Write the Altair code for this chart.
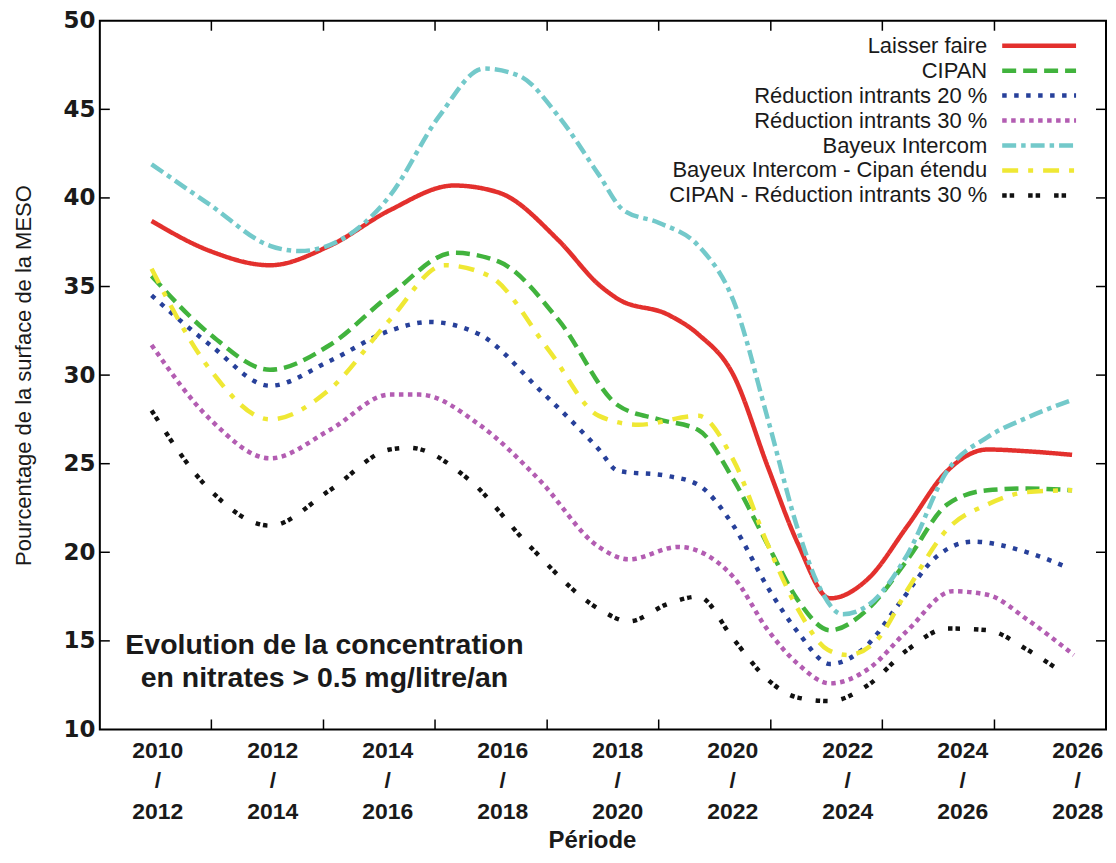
import altair as alt
import pandas as pd

# ---------------- data ----------------
SERIES = ["Laisser faire", "CIPAN", "Réduction intrants 20 %", "Réduction intrants 30 %",
          "Bayeux Intercom", "Bayeux Intercom - Cipan étendu", "CIPAN - Réduction intrants 30 %"]

red_x = [2010.9, 2011.92, 2012.96, 2014.0, 2015.04, 2016.16, 2016.94, 2017.98, 2018.68, 2019.01,
         2019.89, 2020.41, 2021.02, 2021.62, 2022.14, 2022.7, 2023.36, 2024.05, 2024.74, 2025.44, 2026.13, 2026.91]
red_y = [38.7, 37.0, 36.2, 37.3, 39.3, 40.7, 40.3, 37.6, 35.1, 34.3,
         33.4, 32.3, 30.0, 24.8, 20.5, 17.4, 18.5, 21.5, 24.6, 25.8, 25.7, 25.5]

green_x = [2010.9, 2011.92, 2012.96, 2014.0, 2015.04, 2016.16, 2016.94, 2017.98, 2019.01, 2019.72,
           2020.41, 2021.02, 2021.62, 2022.14, 2022.7, 2023.36, 2024.05, 2024.74, 2025.44, 2026.13, 2026.91]
green_y = [35.6, 32.3, 30.3, 31.7, 34.5, 36.9, 36.4, 33.1, 28.3, 27.5,
           26.9, 24.1, 20.4, 17.3, 15.6, 16.8, 19.6, 22.7, 23.5, 23.6, 23.5]

blue_x = [2010.9, 2011.92, 2012.96, 2014.0, 2015.04, 2015.73, 2016.6, 2017.64, 2018.68, 2019.01,
          2019.89, 2020.41, 2021.02, 2021.62, 2022.14, 2022.7, 2023.36, 2023.88, 2024.57, 2025.18, 2026.13, 2026.86]
blue_y = [34.5, 31.7, 29.4, 30.8, 32.5, 33.0, 32.3, 29.2, 25.8, 24.6,
          24.3, 23.8, 21.5, 18.0, 15.5, 13.7, 14.8, 17.0, 19.8, 20.6, 20.0, 19.1]

magenta_x = [2010.9, 2011.92, 2012.96, 2014.0, 2015.04, 2015.56, 2016.6, 2017.64, 2018.68, 2019.2,
             2020.06, 2021.02, 2021.62, 2022.14, 2022.7, 2023.36, 2024.05, 2024.83, 2025.44, 2026.13, 2026.94]
magenta_y = [31.7, 27.5, 25.3, 26.9, 28.9, 28.9, 27.2, 24.1, 20.3, 19.6,
             20.3, 18.6, 15.6, 13.7, 12.6, 13.4, 15.6, 17.8, 17.6, 16.2, 14.2]

cyan_x = [2010.9, 2011.92, 2012.96, 2013.48, 2014.17, 2015.04, 2015.9, 2016.68, 2017.29, 2017.98,
          2018.68, 2019.11, 2019.72, 2020.41, 2021.02, 2021.62, 2022.14, 2022.49, 2022.92, 2023.36,
          2024.05, 2024.74, 2025.44, 2026.13, 2026.91]
cyan_y = [41.9, 39.6, 37.3, 37.0, 37.6, 40.1, 44.6, 47.3, 46.9, 44.6,
          41.3, 39.3, 38.6, 37.3, 34.2, 27.5, 21.3, 18.2, 16.5, 17.0,
          19.9, 24.6, 26.5, 27.6, 28.6]

yellow_x = [2010.9, 2011.92, 2012.96, 2014.0, 2015.04, 2015.99, 2016.77, 2017.81, 2018.68, 2019.37,
            2020.41, 2021.02, 2021.62, 2022.14, 2022.66, 2023.01, 2023.53, 2024.05, 2024.74, 2025.44, 2026.13, 2026.91]
yellow_y = [36.0, 30.3, 27.5, 29.2, 33.1, 36.2, 35.6, 31.4, 27.7, 27.2,
            27.7, 25.2, 20.4, 16.8, 14.5, 14.2, 15.1, 17.9, 21.3, 22.7, 23.4, 23.5]

black_x = [2010.9, 2011.92, 2012.96, 2014.0, 2015.04, 2015.38, 2016.42, 2017.46, 2018.68, 2019.2,
           2019.89, 2020.41, 2021.02, 2021.62, 2022.14, 2022.7, 2023.36, 2024.05, 2024.74, 2025.44, 2026.13, 2026.79]
black_y = [28.0, 23.5, 21.5, 23.5, 25.8, 25.9, 24.1, 20.4, 16.8, 16.1,
           17.1, 17.5, 15.1, 12.8, 11.8, 11.6, 12.5, 14.5, 15.7, 15.6, 14.5, 13.1]

LABEL_YEARS = [2011, 2013, 2015, 2017, 2019, 2021, 2023, 2025, 2027]   # centre of each period "2010 / 2012" ...
TICK_YEARS = [2011.94, 2013.89, 2015.83, 2017.78, 2019.72, 2021.67, 2023.61, 2025.56]
Y_TICKS = [10, 15, 20, 25, 30, 35, 40, 45, 50]
Y_INNER_TICKS = [15, 20, 25, 30, 35, 40, 45]
NOTE = ["Evolution de la concentration", "en nitrates > 0.5 mg/litre/an"]

# ---------------- styles ----------------
COLORS = ["#e3302d", "#41b33d", "#27409a", "#b35db2", "#73c9ca", "#efe834", "#111111"]
DASHES = [[1, 0], [14, 7], [4.5, 7.5], [4.5, 4.5], [14, 5, 4.5, 5], [16, 10, 5, 10], [4.5, 3, 4.5, 14]]

xs = [red_x, green_x, blue_x, magenta_x, cyan_x, yellow_x, black_x]
ys = [red_y, green_y, blue_y, magenta_y, cyan_y, yellow_y, black_y]
rows = []
for name, xx, yy in zip(SERIES, xs, ys):
    for a, b in zip(xx, yy):
        rows.append({"series": name, "year": a, "value": b})
df = pd.DataFrame(rows)

W, H = 1008, 710
x_scale = alt.Scale(domain=[2010.0, 2027.5], nice=False, zero=False)
y_scale = alt.Scale(domain=[10, 50], nice=False, zero=False)
color = alt.Color("series:N", scale=alt.Scale(domain=SERIES, range=COLORS), legend=None)
dash = alt.StrokeDash("series:N", scale=alt.Scale(domain=SERIES, range=DASHES), legend=None)

SANS = "Liberation Sans, Arial, sans-serif"

x_axis = alt.Axis(
    values=LABEL_YEARS,
    labelExpr="[toString(datum.value - 1), '/', toString(datum.value + 1)]",
    ticks=False, domain=False, grid=False, labelFlush=False, labelOverlap=False,
    labelFont=SANS, labelFontSize=23, labelFontWeight="bold", labelColor="#1a1a1a",
    labelLineHeight=30.5, labelPadding=10,
    title="Période", titleFont=SANS, titleFontSize=24, titleFontWeight="bold",
    titleColor="#1a1a1a", titleX=493, titleY=118, titleBaseline="alphabetic", titleAlign="center")


def xenc():
    return alt.X("year:Q", scale=x_scale, axis=x_axis)


lines = alt.Chart(df).mark_line(strokeWidth=4.5, interpolate="monotone").encode(
    x=xenc(),
    y=alt.Y("value:Q", scale=y_scale, axis=alt.Axis(
        values=Y_TICKS, ticks=False, domain=False, grid=False, labelFlush=False, labelOverlap=False,
        labelFont="DejaVu Sans", labelFontSize=23, labelFontWeight="bold", labelColor="#1a1a1a",
        labelPadding=5,
        title="Pourcentage de la surface de la MESO", titleFont=SANS, titleFontSize=22,
        titleFontWeight="normal", titleColor="#1a1a1a", titleX=-76, titleY=355,
        titleBaseline="middle", titleAlign="center", titleAngle=270)),
    color=color,
    strokeDash=dash,
)

ydf = pd.DataFrame({"v": Y_INNER_TICKS})
xdf = pd.DataFrame({"year": TICK_YEARS})
tick_style = dict(color="black", strokeWidth=1.5)
y_left = alt.Chart(ydf).mark_rule(**tick_style).encode(
    y=alt.Y("v:Q", scale=y_scale, axis=None), x=alt.value(0), x2=alt.value(10))
y_right = alt.Chart(ydf).mark_rule(**tick_style).encode(
    y=alt.Y("v:Q", scale=y_scale, axis=None), x=alt.value(W - 10), x2=alt.value(W))
x_bottom = alt.Chart(xdf).mark_rule(**tick_style).encode(
    x=xenc(), y=alt.value(H - 10), y2=alt.value(H))
x_top = alt.Chart(xdf).mark_rule(**tick_style).encode(
    x=xenc(), y=alt.value(0), y2=alt.value(10))

note = alt.Chart(pd.DataFrame({"k": [0]})).mark_text(
    font=SANS, fontSize=28.5, fontWeight="bold", color="#1a1a1a",
    align="center", baseline="middle", lineHeight=33, text=NOTE
).encode(x=alt.value(225), y=alt.value(625))

leg_df = pd.DataFrame({"series": SERIES, "row": list(range(1, len(SERIES) + 1))})
row_scale = alt.Scale(domain=[0, H / 25.0], range=[0, H])
leg_text = alt.Chart(leg_df).mark_text(
    font=SANS, fontSize=22, color="#1a1a1a", align="right", baseline="middle"
).encode(x=alt.value(889), y=alt.Y("row:Q", scale=row_scale, axis=None), text="series:N")
leg_line = alt.Chart(leg_df).mark_rule(strokeWidth=4.5).encode(
    x=alt.value(904), x2=alt.value(978),
    y=alt.Y("row:Q", scale=row_scale, axis=None),
    color=color, strokeDash=dash)

chart = alt.layer(lines, y_left, y_right, x_bottom, x_top, note, leg_line, leg_text).resolve_scale(
    y="independent"
).properties(
    width=W, height=H,
    autosize=alt.AutoSizeParams(type="none"),
    padding={"left": 92, "top": 12, "right": 2, "bottom": 125},
    background="white",
).configure_view(stroke="black", strokeWidth=2)

chart.save("out.html", embed_options={"renderer": "svg", "actions": False})
